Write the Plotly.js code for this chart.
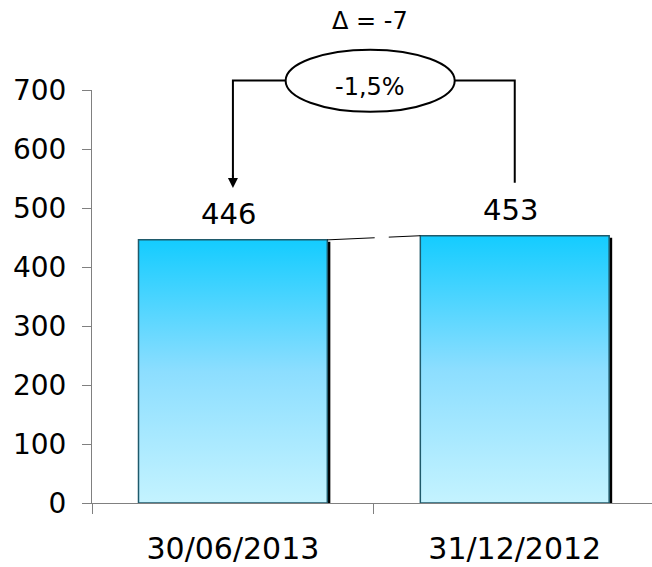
<!DOCTYPE html>
<html>
<head>
<meta charset="utf-8">
<script src="https://cdn.plot.ly/plotly-3.0.1.min.js"></script>
<style>html,body{margin:0;padding:0;background:#fff;}#chart{width:652px;height:567px;}</style>
</head>
<body>
<div id="chart"></div>
<script>
// ---- data ----
const categories = ['30/06/2013', '31/12/2012'];
const values = [446, 453];
const yTicks = [0, 100, 200, 300, 400, 500, 600, 700];

// ---- derived ----
const delta = values[0] - values[1];
const pct = (delta / values[1] * 100).toFixed(1).replace('.', ',') + '%';

const HALF = 0.335;      // bar half width (category units)
const SHW = 0.0107;      // shadow width
const FONT = 'DejaVu Sans, Verdana, sans-serif';

const traces = [];
values.forEach((v, i) => {
  // shadow
  traces.push({
    type: 'scatter', mode: 'none', fill: 'toself', fillcolor: '#000000',
    x: [i + HALF, i + HALF + SHW, i + HALF + SHW, i + HALF],
    y: [0, 0, v - 3.4, v - 3.4],
    hoverinfo: 'skip', showlegend: false
  });
  // bar with gradient
  traces.push({
    type: 'scatter', mode: 'lines', fill: 'toself',
    x: [i - HALF, i + HALF, i + HALF, i - HALF, i - HALF],
    y: [0, 0, v, v, 0],
    line: {color: '#1f5a6b', width: 1.5},
    fillgradient: {
      type: 'vertical', start: 0, stop: v,
      colorscale: [[0, '#C4F3FF'], [0.5, '#8CDEFF'], [1, '#14CCFF']]
    },
    hoverinfo: 'skip', showlegend: false
  });
});

// series line between bar tops (with a small break)
const xa = HALF, xb = 1 - HALF;
const yAt = x => values[0] + (values[1] - values[0]) * (x - xa) / (xb - xa);
traces.push({
  type: 'scatter', mode: 'lines', x: [xa, 0.503], y: [yAt(xa), yAt(0.503)],
  line: {color: '#000', width: 1}, hoverinfo: 'skip', showlegend: false
});
traces.push({
  type: 'scatter', mode: 'lines', x: [0.553, xb], y: [yAt(0.553), yAt(xb)],
  line: {color: '#000', width: 1}, hoverinfo: 'skip', showlegend: false
});

const yC = 1.0228;   // connector level (paper)
const layout = {
  width: 652, height: 567,
  margin: {l: 92, r: 0, t: 90, b: 64},
  paper_bgcolor: '#fff', plot_bgcolor: '#fff',
  showlegend: false,
  font: {family: FONT, color: '#000', size: 28},
  xaxis: {
    range: [-0.5, 1.487], showgrid: false, zeroline: false,
    showline: true, linecolor: '#808080', linewidth: 1,
    tickmode: 'array', tickvals: categories.map((c, i) => i), ticktext: categories,
    ticks: '', ticklabelstandoff: 19,
    tickfont: {family: FONT, size: 30, color: '#000'},
    minor: {tickmode: 'array', tickvals: [-0.5, 0.5, 1.5], ticks: 'outside', ticklen: 10, tickcolor: '#808080', tickwidth: 1, showgrid: false},
    fixedrange: true
  },
  yaxis: {
    range: [0, 700], showgrid: false, zeroline: false,
    showline: true, linecolor: '#808080', linewidth: 1,
    tickmode: 'array', tickvals: yTicks, ticktext: yTicks.map(String),
    ticks: 'outside', ticklen: 9, tickcolor: '#808080', tickwidth: 1,
    ticklabelstandoff: 10,
    tickfont: {family: FONT, size: 28, color: '#000'},
    fixedrange: true
  },
  shapes: [
    {type: 'circle', xref: 'x', yref: 'paper', x0: 0.187, x1: 0.787, y0: 0.9471, y1: 1.0977,
      line: {color: '#000', width: 2}, fillcolor: 'rgba(0,0,0,0)'},
    {type: 'path', xref: 'x', yref: 'paper',
      path: `M 0.187 ${yC} L 0 ${yC} L 0 0.79`, line: {color: '#000', width: 2}},
    {type: 'path', xref: 'x', yref: 'paper',
      path: `M 0.787 ${yC} L 1 ${yC} L 1 0.7753`, line: {color: '#000', width: 2}}
  ],
  annotations: [
    {xref: 'x', yref: 'paper', x: 0, y: 0.763, ax: 0, ay: -14, axref: 'pixel', ayref: 'pixel',
      text: '', showarrow: true, arrowhead: 2, arrowsize: 1, arrowwidth: 2, arrowcolor: '#000'},
    {xref: 'x', yref: 'paper', x: 0.487, y: 1.168, text: '\u0394 = ' + delta, showarrow: false,
      font: {family: FONT, size: 24, color: '#000'}, xanchor: 'center', yanchor: 'middle'},
    {xref: 'x', yref: 'paper', x: 0.487, y: 1.008, text: pct, showarrow: false,
      font: {family: FONT, size: 24, color: '#000'}, xanchor: 'center', yanchor: 'middle'}
  ].concat(values.map((v, i) => ({
    xref: 'x', yref: 'y', x: i, y: v, text: String(v), showarrow: false,
    xshift: -4, yshift: 26, xanchor: 'center', yanchor: 'middle',
    font: {family: FONT, size: 29, color: '#000'}
  })))
};

Plotly.newPlot('chart', traces, layout, {displayModeBar: false, staticPlot: true});
</script>
</body>
</html>
